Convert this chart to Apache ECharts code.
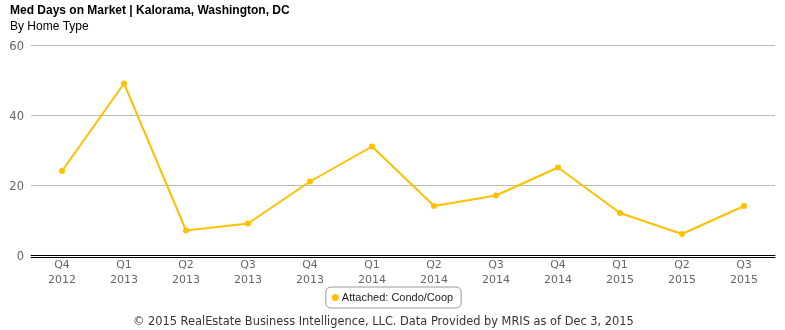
<!DOCTYPE html>
<html>
<head>
<meta charset="utf-8">
<script src="https://cdn.jsdelivr.net/npm/echarts@6/dist/echarts.min.js"></script>
<style>html,body{margin:0;padding:0;background:#fff}#c{width:785px;height:330px}</style>
</head>
<body>
<div id="c"></div>
<script>
var categories = ['Q4\n2012','Q1\n2013','Q2\n2013','Q3\n2013','Q4\n2013','Q1\n2014','Q2\n2014','Q3\n2014','Q4\n2014','Q1\n2015','Q2\n2015','Q3\n2015'];
var condoValues = [24, 49, 7, 9, 21, 31, 14, 17, 25, 12, 6, 14];
var yTicks = [0, 20, 40, 60];
var seriesName = 'Attached: Condo/Coop';

var chart = echarts.init(document.getElementById('c'), null, {renderer: 'canvas'});
chart.setOption({
  animation: false,
  backgroundColor: '#fff',
  title: [
    {text: 'Med Days on Market | Kalorama, Washington, DC', left: 5, top: 0,
     textStyle: {fontFamily: 'Liberation Sans', fontSize: 12, fontWeight: 'bold', color: '#000'}},
    {text: 'By Home Type', left: 5, top: 16,
     textStyle: {fontFamily: 'Liberation Sans', fontSize: 12, fontWeight: 'normal', color: '#000'}},
    {text: '\u00a9 2015 RealEstate Business Intelligence, LLC. Data Provided by MRIS as of Dec 3, 2015', left: 128, top: 312,
     textStyle: {fontFamily: 'DejaVu Sans', fontSize: 11.4, fontWeight: 'normal', color: '#333'}}
  ],
  legend: {
    data: [seriesName], left: 'center', top: 287,
    borderColor: '#999', borderWidth: 1, borderRadius: 5,
    padding: [5, 8, 5, 6],
    icon: 'circle', itemWidth: 7, itemHeight: 7, itemGap: 4,
    textStyle: {fontFamily: 'Liberation Sans', fontSize: 11, color: '#222', padding: [0, 0, 0, -2]}
  },
  grid: {left: 31, right: 10, top: 45, height: 210, containLabel: false},
  xAxis: [
    {type: 'category', data: categories, boundaryGap: true,
     axisLine: {lineStyle: {color: '#000', width: 1}},
     axisTick: {show: false},
     axisLabel: {color: '#666', fontFamily: 'DejaVu Sans', fontSize: 11, lineHeight: 15, margin: 3, interval: 0}},
    {type: 'category', data: categories, position: 'bottom', offset: 2, boundaryGap: true,
     axisLine: {lineStyle: {color: '#000', width: 1}},
     axisTick: {show: false}, axisLabel: {show: false}}
  ],
  yAxis: {
    type: 'value', min: yTicks[0], max: yTicks[yTicks.length - 1], interval: 20,
    axisLine: {show: false}, axisTick: {show: false},
    splitLine: {lineStyle: {color: '#bbb', width: 1}},
    axisLabel: {color: '#666', fontFamily: 'DejaVu Sans', fontSize: 11.5, margin: 7, padding: [0, 0, 0, 0], verticalAlign: 'top', lineHeight: 4}
  },
  series: [{
    name: seriesName, type: 'line', data: condoValues,
    color: '#FFC000',
    lineStyle: {width: 2, color: '#FFC000'},
    symbol: 'circle', symbolSize: 6,
    itemStyle: {color: '#FFC000'}
  }]
});
</script>
</body>
</html>
